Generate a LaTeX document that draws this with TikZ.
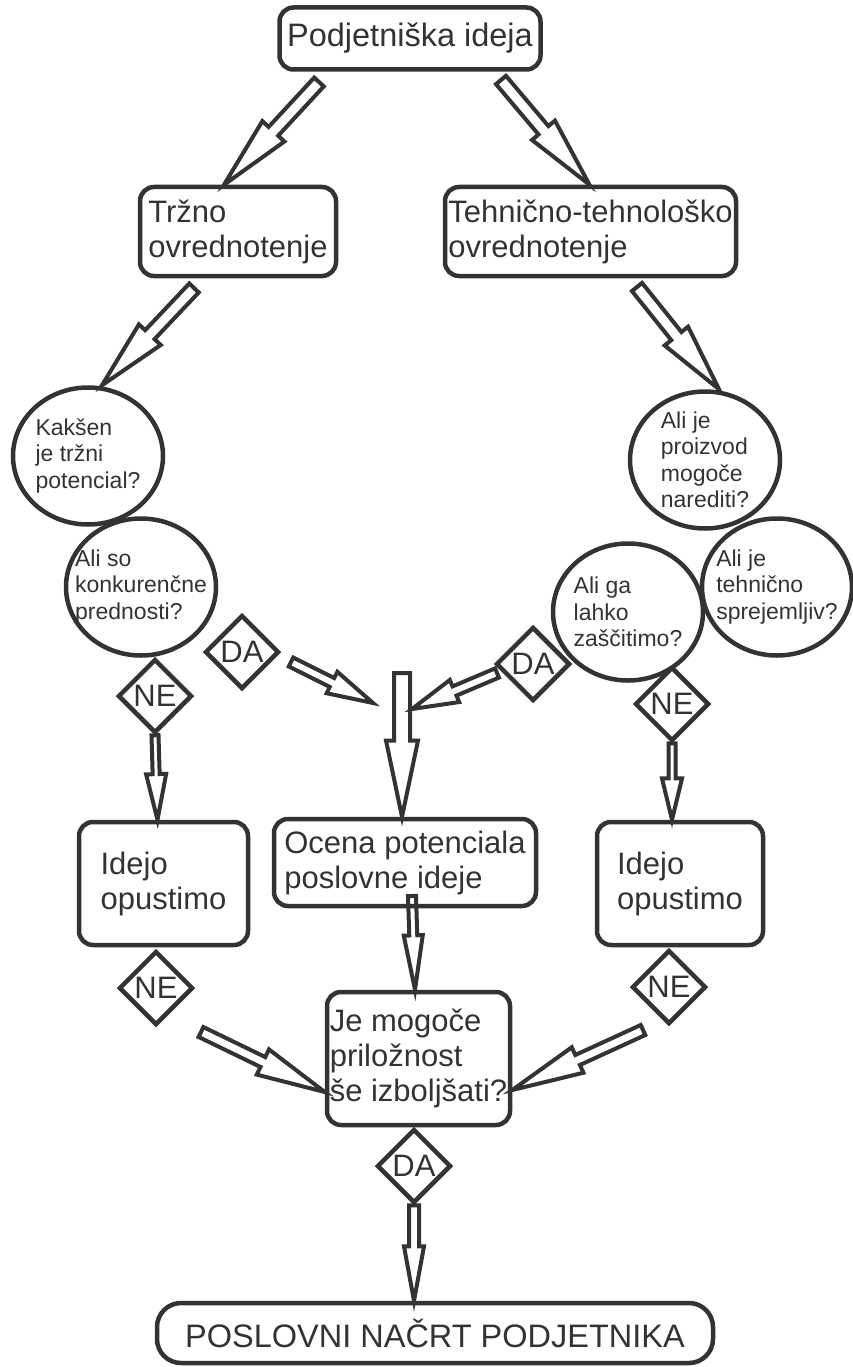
\documentclass[tikz,border=0pt]{standalone}
\usepackage{fontspec}
\setmainfont{Liberation Sans}
\usetikzlibrary{calc,shapes.geometric}
\definecolor{ink}{RGB}{51,51,51}
% hollow block arrow: [head position] from, to, shaft half width, head half width
\newcommand{\hollowarrow}[5][0.45]{%
  \coordinate (hb) at ($(#2)!#1!(#3)$);
  \draw[hollow] ($(#2)!#4!90:(#3)$) -- ($(hb)!#4!90:(#3)$) -- ($(hb)!#5!90:(#3)$) -- (#3)
    -- ($(hb)!#5!-90:(#3)$) -- ($(hb)!#4!-90:(#3)$) -- ($(#2)!#4!-90:(#3)$) -- cycle;
}
\begin{document}
\begin{tikzpicture}[x=1pt, y=-1pt,
  box/.style={draw=ink, line width=4.5pt, rounded corners=14pt, text=ink, align=left,
    inner sep=0pt, font=\fontsize{31}{35}\selectfont},
  ask/.style={ellipse, draw=ink, line width=4.5pt, minimum width=150pt, minimum height=137pt, inner sep=0pt},
  asktext/.style={text=ink, align=left, font=\fontsize{23}{26.5}\selectfont},
  reply/.style={diamond, draw=ink, line width=4.5pt, minimum width=74pt, minimum height=74pt,
    inner sep=0pt, text=ink, font=\fontsize{31}{35}\selectfont},
  hollow/.style={draw=ink, line width=4pt, line join=miter}]
  \useasboundingbox (0,0) rectangle (852,1367);

  \node[box, minimum width=261pt, minimum height=62pt, font=\fontsize{32.5}{36}\selectfont] (podj) at (410,38.5) {Podjetniška ideja};
  \node[box, minimum width=196pt, minimum height=89pt] (trzno) at (238,231.5) {Tržno\\ovrednotenje};
  \node[box, minimum width=291pt, minimum height=89pt] (tehn) at (590.5,231.5) {Tehnično-tehnološko\\ovrednotenje};

  \node[ask, label={[asktext]center:{Kakšen\\je tržni\\potencial?}}] (kak) at (88,456) {};
  \node[ask, label={[asktext]center:{Ali so\\konkurenčne\\prednosti?}}] (konk) at (141,587) {};
  \node[ask, label={[asktext]center:{Ali je\\proizvod\\mogoče\\narediti?}}] (proiz) at (705,460) {};
  \node[ask, label={[asktext]center:{Ali je\\tehnično\\sprejemljiv?}}] (sprej) at (777,587) {};
  \node[ask, label={[asktext]center:{Ali ga\\lahko\\zaščitimo?}}] (zasc) at (628,612) {};

  \node[reply] (daL) at (242,652) {DA};
  \node[reply] (neL) at (155,696) {NE};
  \node[reply] (daR) at (533,664) {DA};
  \node[reply] (neR) at (672,704) {NE};

  \node[box, minimum width=169pt, minimum height=123pt] (idejoL) at (163.5,883.5) {Idejo\\opustimo};
  \node[box, minimum width=262pt, minimum height=87pt] (ocena) at (405,862.5) {Ocena potenciala\\poslovne ideje};
  \node[box, minimum width=166pt, minimum height=123pt] (idejoR) at (680,883.5) {Idejo\\opustimo};

  \node[reply] (neL2) at (156,988) {NE};
  \node[reply] (neR2) at (669,987) {NE};
  \node[box, minimum width=183pt, minimum height=133pt] (jemog) at (418.5,1058.5) {Je mogoče\\priložnost\\še izboljšati?};
  \node[reply] (daB) at (414,1166) {DA};
  \node[box, rounded corners=24pt, minimum width=556pt, minimum height=60pt,
    font=\fontsize{32.5}{36}\selectfont] (nacrt) at (435,1333) {POSLOVNI NAČRT PODJETNIKA};

  \coordinate (a1s) at (319,82);
  \coordinate (a1e) at ($(trzno.north)+(-14,0)$);
  \coordinate (a2s) at (501,80);
  \coordinate (a2e) at ($(tehn.north)+(-1,0)$);
  \coordinate (a3s) at (194,288);
  \coordinate (a3e) at ($(kak.north)+(14,0)$);
  \coordinate (a4s) at (637,287);
  \coordinate (a4e) at ($(proiz.north)+(14,0)$);
  \coordinate (a5s) at (291,662);
  \coordinate (a5e) at (373,703);
  \coordinate (a6s) at (497,673);
  \coordinate (a6e) at (412,709);
  \coordinate (a7s) at (402,673);
  \coordinate (a7e) at ($(ocena.north)+(-3,0)$);
  \coordinate (a8e) at ($(idejoL.north)+(-6,0)$);
  \coordinate (a9e) at ($(idejoR.north)+(-8,0)$);
  \coordinate (a10s) at (412,896);
  \coordinate (a10e) at ($(jemog.north)+(-3.5,0)$);
  \coordinate (a11s) at (201,1032);
  \coordinate (a11e) at ($(jemog.west)+(0,33.5)$);
  \coordinate (a12s) at (643,1030);
  \coordinate (a12e) at ($(jemog.east)+(0,31.5)$);
  \coordinate (a13e) at ($(nacrt.north)+(-21,0)$);

  \hollowarrow[0.48]{a1s}{a1e}{6.5pt}{15pt}
  \hollowarrow[0.48]{a2s}{a2e}{6.5pt}{15pt}
  \hollowarrow[0.48]{a3s}{a3e}{6.5pt}{15pt}
  \hollowarrow[0.48]{a4s}{a4e}{6.5pt}{15pt}
  \hollowarrow[0.5]{a5s}{a5e}{5pt}{12pt}
  \hollowarrow[0.5]{a6s}{a6e}{5pt}{12pt}
  \hollowarrow[0.47]{a7s}{a7e}{8pt}{16pt}
  \hollowarrow[0.46]{neL.south}{a8e}{3.5pt}{10pt}
  \hollowarrow[0.46]{neR.south}{a9e}{3.5pt}{10pt}
  \hollowarrow[0.42]{a10s}{a10e}{4pt}{9.5pt}
  \hollowarrow[0.5]{a11s}{a11e}{5.5pt}{14pt}
  \hollowarrow[0.5]{a12s}{a12e}{5.5pt}{14pt}
  \hollowarrow[0.43]{daB.south}{a13e}{5pt}{10pt}
\end{tikzpicture}
\end{document}
